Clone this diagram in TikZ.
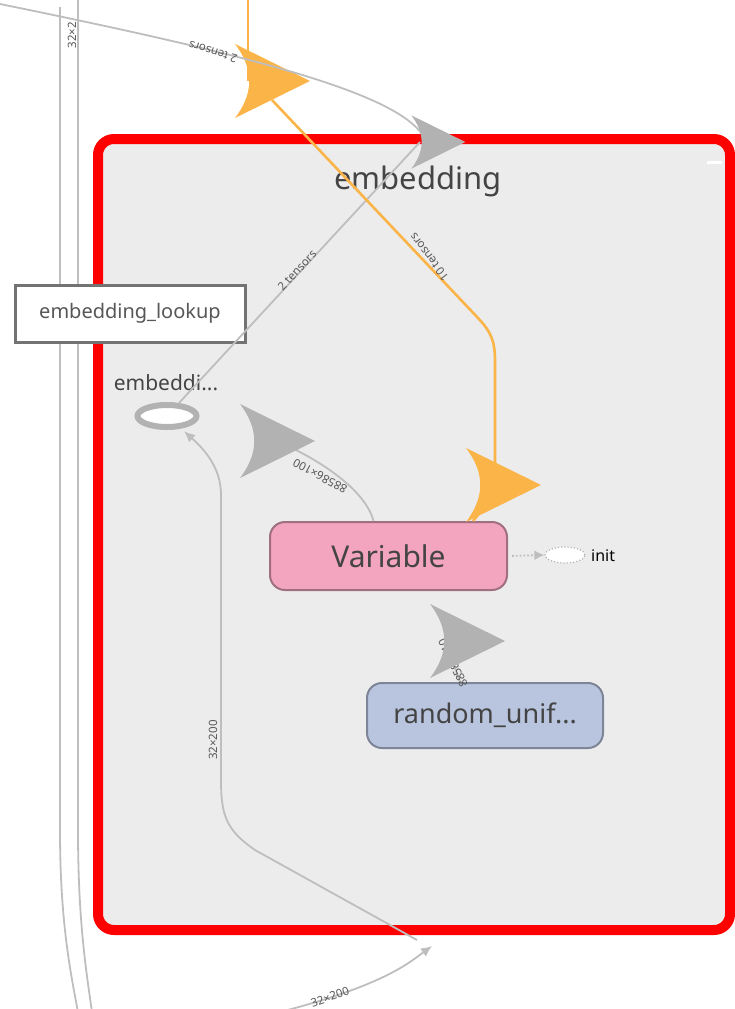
\documentclass[tikz,border=0pt]{standalone}
\usepackage{fontspec}
\setmainfont{Noto Sans}
\usetikzlibrary{shapes.geometric,arrows.meta}
\definecolor{grpred}{RGB}{255,0,0}
\definecolor{grpfill}{RGB}{236,236,236}
\definecolor{edgegray}{RGB}{190,190,190}
\definecolor{headgray}{RGB}{178,178,178}
\definecolor{tforange}{RGB}{251,180,72}
\definecolor{varpink}{RGB}{243,164,191}
\definecolor{varborder}{RGB}{160,112,128}
\definecolor{rndblue}{RGB}{185,197,222}
\definecolor{rndborder}{RGB}{126,133,152}
\definecolor{txtgray}{RGB}{68,68,68}

\begin{document}
\begin{tikzpicture}[x=1pt, y=-1pt,
  groupbox/.style={draw=grpred, line width=10pt, fill=grpfill, rounded corners=16pt, minimum width=632pt, minimum height=791pt},
  grouptitle/.style={font=\fontsize{31}{36}\selectfont, text=txtgray, inner sep=0pt},
  lookupbox/.style={draw=gray!110, line width=3pt, fill=white, minimum width=230pt, minimum height=57pt, text=txtgray!90, font=\fontsize{20}{24}\selectfont},
  opname/.style={font=\fontsize{21}{24}\selectfont, text=txtgray, inner sep=0pt},
  opnode/.style={ellipse, draw=headgray, line width=6pt, fill=white, minimum width=59pt, minimum height=22pt},
  varnode/.style={draw=varborder, line width=2pt, fill=varpink, rounded corners=15pt, minimum width=237pt, minimum height=68pt, text=txtgray, font=\fontsize{30}{34}\selectfont},
  rndnode/.style={draw=rndborder, line width=2pt, fill=rndblue, rounded corners=15pt, minimum width=236pt, minimum height=65pt, text=txtgray, font=\fontsize{27}{30}\selectfont},
  initnode/.style={ellipse, draw=headgray, dotted, line width=1.2pt, fill=white, minimum width=40pt, minimum height=16pt},
  grayedge/.style={draw=edgegray, line width=1.8pt},
  orangeedge/.style={draw=tforange, line width=2.6pt},
  edgelbl/.style={font=\fontsize{11.5}{13}\selectfont, text=txtgray!90, inner sep=0pt},
  bighead/.pic={\fill[#1] (38,0) -- (-37,-37) .. controls (-18,-12) and (-18,12) .. (-37,37) -- cycle;}
]
\useasboundingbox (0,0) rectangle (735,1009);

% Group
\node[groupbox] (grp) at (414,534.5) {};
\node[grouptitle] (grptitle) at (418,181) {embedding};
\draw[white, line width=3pt] (707,162) -- (722,162);

% Outer edges on the left
\coordinate (lA0) at (60,7);
\coordinate (lA1) at (78,1012);
\coordinate (lB0) at (78,-3);
\coordinate (lB1) at (92,1012);
\draw[grayedge] (lA0) -- (60,830) .. controls (60,920) and (70,970) .. (lA1);
\draw[grayedge] (lB0) -- (78,830) .. controls (78,920) and (86,970) .. (lB1);
\node[edgelbl, rotate=90] (lbl32x2) at (72,35) {32×2};

% Orange input
\coordinate (otop) at (248,-3);
\coordinate (oa1) at (272,81);
\draw[orangeedge] (otop) -- ([xshift=-24pt]oa1);
\pic at (oa1) {bighead=tforange};

% Gray input
\coordinate (srcL) at (0,4);
\coordinate (ga1) at (438,142);
\draw[grayedge] (srcL) .. controls (250,55) and (410,95) .. ([xshift=-12pt]ga1);
\node[edgelbl, rotate=163] (lbltop) at (213,52) {2 tensors};

% Nodes
\node[lookupbox] (lookup) at (130,313.5) {embedding\_lookup};
\node[opname] (embname) at (166,383) {embeddi...};
\node[opnode] (emb) at (167,416) {};
\node[varnode] (var) at (388.5,556) {Variable};
\node[rndnode] (rnd) at (485,715.5) {random\_unif...};
\node[initnode] (init) at (565,555) {};
\node[font=\fontsize{16}{18}\selectfont, inner sep=0pt, anchor=west] (initlbl) at (591,556) {init};

% Edges
\coordinate (ga2) at (277,441);
\coordinate (ga3) at (467,641);
\coordinate (oa2) at (503,485);
\coordinate (bot) at (280,1012);
\coordinate (bridge) at (432,946);
\draw[grayedge] ([xshift=-18pt]ga1) -- (emb);
\draw[orangeedge] ([yshift=-19pt]oa1) -- (478,318) .. controls (492,333) and (495,342) .. (495,362) -- ([xshift=-8pt]oa2);
\draw[orangeedge] (oa2) -- ([xshift=-35pt]var.north east);
\draw[grayedge] ([xshift=-15pt]var.north) .. controls (366,492) and (325,462) .. (ga2);
\draw[grayedge] ([xshift=-25pt]rnd.north) -- ([xshift=-22pt]ga3);
\draw[grayedge, -{Latex[length=11pt,width=10pt]}] (bot) .. controls (385,985) and (410,962) .. (bridge);
\draw[grayedge, -{Latex[length=11pt,width=10pt]}, shorten >=4pt] ([xshift=-15pt,yshift=6pt]bridge) -- (255,850) .. controls (226,830) and (221,815) .. (221,780) -- (221,495) .. controls (221,468) and (205,450) .. (emb);
\draw[grayedge, dotted, -{Latex[length=10pt,width=10pt]}, shorten <=4pt] (var.east) -- (init.west);

% Edge labels
\node[edgelbl, rotate=47] (lbl2t) at (297,270) {2 tensors};
\node[edgelbl, rotate=127] (lbl10t) at (429,257) {10 tensors};
\node[edgelbl, rotate=152] (lblvar) at (320,476) {88586×100};
\node[edgelbl, rotate=116] (lblrnd) at (453,663) {88586×10};
\node[edgelbl, rotate=90] (lbl32a) at (213,740) {32×200};
\node[edgelbl, rotate=19] (lbl32b) at (330,997) {32×200};

% Big arrow heads
\pic[scale=0.72] at (ga1) {bighead=headgray};
\pic at (ga2) {bighead=headgray};
\pic at (ga3) {bighead=headgray};
\pic at (oa2) {bighead=tforange};
\end{tikzpicture}
\end{document}
